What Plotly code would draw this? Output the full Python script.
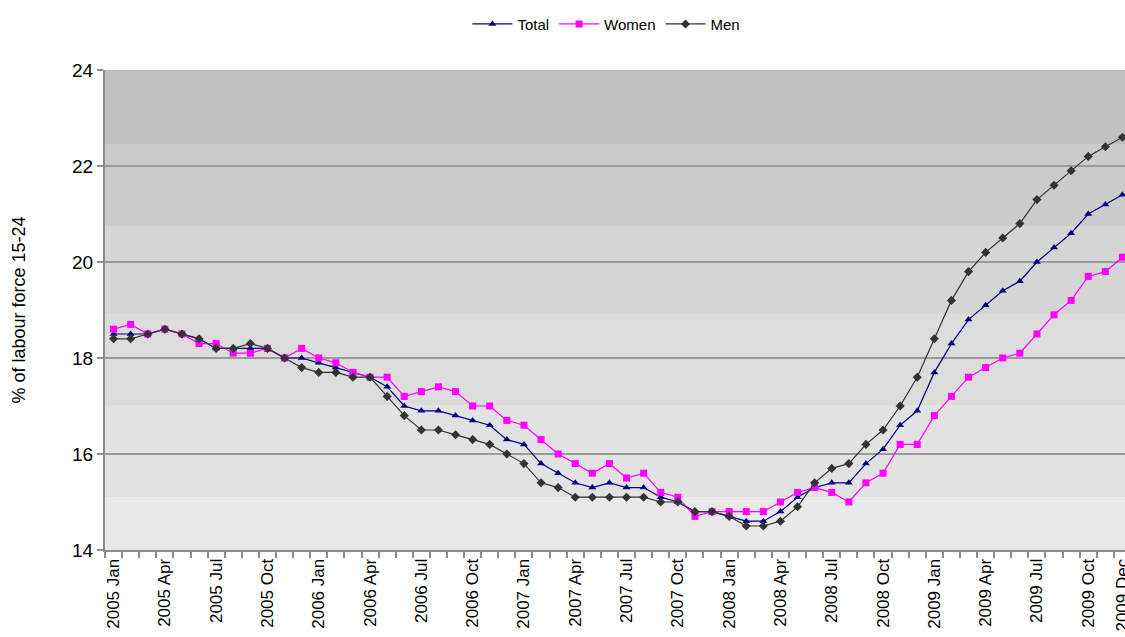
import plotly.graph_objects as go

months = [
    "2005 Jan", "2005 Feb", "2005 Mar", "2005 Apr", "2005 May", "2005 Jun",
    "2005 Jul", "2005 Aug", "2005 Sep", "2005 Oct", "2005 Nov", "2005 Dec",
    "2006 Jan", "2006 Feb", "2006 Mar", "2006 Apr", "2006 May", "2006 Jun",
    "2006 Jul", "2006 Aug", "2006 Sep", "2006 Oct", "2006 Nov", "2006 Dec",
    "2007 Jan", "2007 Feb", "2007 Mar", "2007 Apr", "2007 May", "2007 Jun",
    "2007 Jul", "2007 Aug", "2007 Sep", "2007 Oct", "2007 Nov", "2007 Dec",
    "2008 Jan", "2008 Feb", "2008 Mar", "2008 Apr", "2008 May", "2008 Jun",
    "2008 Jul", "2008 Aug", "2008 Sep", "2008 Oct", "2008 Nov", "2008 Dec",
    "2009 Jan", "2009 Feb", "2009 Mar", "2009 Apr", "2009 May", "2009 Jun",
    "2009 Jul", "2009 Aug", "2009 Sep", "2009 Oct", "2009 Nov", "2009 Dec",
]

total = [
    18.5, 18.5, 18.5, 18.6, 18.5, 18.4, 18.2, 18.2, 18.2, 18.2, 18.0, 18.0,
    17.9, 17.8, 17.7, 17.6, 17.4, 17.0, 16.9, 16.9, 16.8, 16.7, 16.6, 16.3,
    16.2, 15.8, 15.6, 15.4, 15.3, 15.4, 15.3, 15.3, 15.1, 15.0, 14.8, 14.8,
    14.7, 14.6, 14.6, 14.8, 15.1, 15.3, 15.4, 15.4, 15.8, 16.1, 16.6, 16.9,
    17.7, 18.3, 18.8, 19.1, 19.4, 19.6, 20.0, 20.3, 20.6, 21.0, 21.2, 21.4,
]

women = [
    18.6, 18.7, 18.5, 18.6, 18.5, 18.3, 18.3, 18.1, 18.1, 18.2, 18.0, 18.2,
    18.0, 17.9, 17.7, 17.6, 17.6, 17.2, 17.3, 17.4, 17.3, 17.0, 17.0, 16.7,
    16.6, 16.3, 16.0, 15.8, 15.6, 15.8, 15.5, 15.6, 15.2, 15.1, 14.7, 14.8,
    14.8, 14.8, 14.8, 15.0, 15.2, 15.3, 15.2, 15.0, 15.4, 15.6, 16.2, 16.2,
    16.8, 17.2, 17.6, 17.8, 18.0, 18.1, 18.5, 18.9, 19.2, 19.7, 19.8, 20.1,
]

men = [
    18.4, 18.4, 18.5, 18.6, 18.5, 18.4, 18.2, 18.2, 18.3, 18.2, 18.0, 17.8,
    17.7, 17.7, 17.6, 17.6, 17.2, 16.8, 16.5, 16.5, 16.4, 16.3, 16.2, 16.0,
    15.8, 15.4, 15.3, 15.1, 15.1, 15.1, 15.1, 15.1, 15.0, 15.0, 14.8, 14.8,
    14.7, 14.5, 14.5, 14.6, 14.9, 15.4, 15.7, 15.8, 16.2, 16.5, 17.0, 17.6,
    18.4, 19.2, 19.8, 20.2, 20.5, 20.8, 21.3, 21.6, 21.9, 22.2, 22.4, 22.6,
]

labelled = ["2005 Jan", "2005 Apr", "2005 Jul", "2005 Oct",
            "2006 Jan", "2006 Apr", "2006 Jul", "2006 Oct",
            "2007 Jan", "2007 Apr", "2007 Jul", "2007 Oct",
            "2008 Jan", "2008 Apr", "2008 Jul", "2008 Oct",
            "2009 Jan", "2009 Apr", "2009 Jul", "2009 Oct", "2009 Dec"]

y_ticks = [14, 16, 18, 20, 22, 24]

# background band limits (value units) and colours
band_edges = [14, 15.1, 17.02, 18.9, 20.75, 22.46, 24]
band_colors = ["#e9e9e9", "#e2e2e2", "#dcdcdc", "#d5d5d5", "#cbcbcb", "#c0c0c0"]

FONT = "Liberation Sans, Arial, sans-serif"
x = list(range(len(months)))

fig = go.Figure()
series = [
    ("Total", total, "#000080", "triangle-up", 7),
    ("Women", women, "#ff00ff", "square", 7),
    ("Men", men, "#333333", "diamond", 7),
]
for name, vals, col, sym, sz in series:
    fig.add_trace(go.Scatter(
        x=x, y=vals, name=name, mode="lines+markers",
        line=dict(color=col, width=1.2),
        marker=dict(color=col, symbol=sym, size=sz),
        cliponaxis=False,
        customdata=months,
        hovertemplate="%{customdata}: %{y}<extra>" + name + "</extra>",
    ))

shapes = []
for i, c in enumerate(band_colors):
    shapes.append(dict(type="rect", xref="x domain", yref="y",
                       x0=0, x1=1, y0=band_edges[i], y1=band_edges[i + 1],
                       fillcolor=c, line=dict(width=0), layer="below"))

tick_pos = [months.index(m) for m in labelled]
boundaries = [i - 0.5 for i in range(len(months) + 1)]

fig.update_layout(
    width=1125, height=637,
    margin=dict(l=105, r=0, t=70, b=87, autoexpand=False),
    paper_bgcolor="white",
    plot_bgcolor="white",
    shapes=shapes,
    font=dict(family=FONT, color="#000000"),
    showlegend=True,
    legend=dict(orientation="h", xref="container", yref="container",
                x=0.539, y=0.962, xanchor="center", yanchor="middle",
                font=dict(size=15, family=FONT), bgcolor="rgba(0,0,0,0)",
                itemwidth=40, tracegroupgap=0),
    xaxis=dict(
        range=[-0.5, 59.15], automargin=False,
        tickmode="array", tickvals=tick_pos, ticktext=labelled,
        tickangle=-90, tickfont=dict(size=17, family=FONT),
        ticklabeloverflow="allow",
        ticks="", showgrid=False, zeroline=False,
        showline=True, linecolor="#8c8c8c", linewidth=2,
        minor=dict(tickmode="array", tickvals=boundaries, ticks="outside",
                   ticklen=6, tickcolor="#8c8c8c", tickwidth=1.5, showgrid=False),
    ),
    yaxis=dict(
        range=[14, 24], tickvals=y_ticks, automargin=False,
        tickfont=dict(size=19, family=FONT),
        ticks="outside", ticklen=6, tickcolor="#8c8c8c", tickwidth=1.5,
        showgrid=True, gridcolor="#9a9a9a", gridwidth=1.5,
        zeroline=False, showline=True, linecolor="#8c8c8c", linewidth=2,
        title=dict(text="% of labour force 15-24", font=dict(size=18, family=FONT),
                   standoff=42),
    ),
)

fig.write_html(
    "out.html",
    config={"displayModeBar": False},
    post_script="document.body.style.margin='0';document.body.style.overflow='hidden';",
)
